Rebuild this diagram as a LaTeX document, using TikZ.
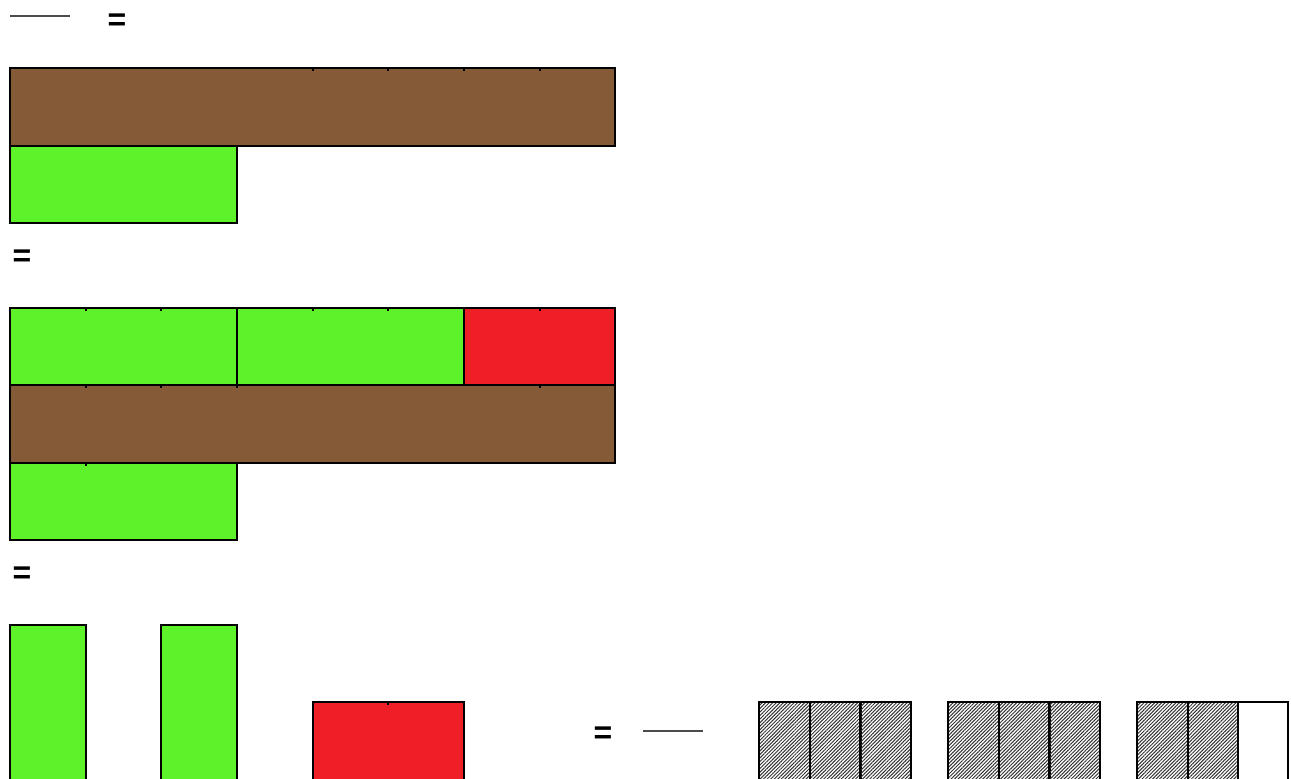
\documentclass[tikz,border=0pt]{standalone}
\usepackage{fontspec}
\setsansfont{Liberation Sans}
\usetikzlibrary{patterns.meta}
\definecolor{brownbar}{HTML}{855B37}
\definecolor{greenbar}{HTML}{5EF22B}
\definecolor{redbar}{HTML}{EF1F27}
\tikzset{
  bar/.style={draw=black,line width=2pt},
  brownbox/.style={bar,fill=brownbar},
  greenbox/.style={bar,fill=greenbar},
  redbox/.style={bar,fill=redbar},
  hatchbox/.style={draw=black,line width=2pt,pattern={Lines[angle=45,distance=2.5pt,line width=1pt]},pattern color=black!80},
  emptybox/.style={draw=black,line width=2pt,fill=white},
  eqsign/.style={font=\sffamily\bfseries\fontsize{32}{32}\selectfont,inner sep=0pt},
  fracline/.style={draw=black!70,line width=1.3pt},
  tick/.style={draw=black,line width=1.4pt}
}
\begin{document}
\begin{tikzpicture}[x=1pt,y=-1pt]
\useasboundingbox (0,0) rectangle (1291,779);
\clip (0,0) rectangle (1291,779);
% top line
\coordinate (f1a) at (10,16);
\coordinate (f1b) at (70,16);
\draw[fracline] (f1a) -- (f1b);
\node[eqsign] (eq1) at (117,22) {=};
% row 1
\draw[brownbox] (10,68) rectangle (615,146);
\draw[greenbox] (10,146) rectangle (237,223);
\foreach \x in {313,388,464,540} \draw[tick] (\x,69) -- (\x,71);
\node[eqsign] (eq2) at (22,258) {=};
% row 2
\draw[greenbox] (10,308) rectangle (237,385);
\draw[greenbox] (237,308) rectangle (464,385);
\draw[redbox] (464,308) rectangle (615,385);
\draw[brownbox] (10,385) rectangle (615,463);
\draw[greenbox] (10,463) rectangle (237,540);
\foreach \x in {86,161,313,388,540} \draw[tick] (\x,309) -- (\x,311);
\foreach \x in {86,161,237,540} \draw[tick] (\x,386) -- (\x,388);
\draw[tick] (86,464) -- (86,466);
\node[eqsign] (eq3) at (22,575) {=};
% row 3
\draw[greenbox] (10,625) rectangle (86,800);
\draw[greenbox] (161,625) rectangle (237,800);
\draw[redbox] (313,702) rectangle (464,800);
\draw[tick] (388,703) -- (388,705);
\node[eqsign] (eq4) at (603,735) {=};
\coordinate (f2a) at (643,731);
\coordinate (f2b) at (703,731);
\draw[fracline] (f2a) -- (f2b);
\foreach \x in {759,810,860, 948,999,1049, 1137,1188} {
  \draw[hatchbox] (\x,702) rectangle ++(50.5,100);
}
\draw[emptybox] (1238,702) rectangle (1288,800);
\end{tikzpicture}
\end{document}
